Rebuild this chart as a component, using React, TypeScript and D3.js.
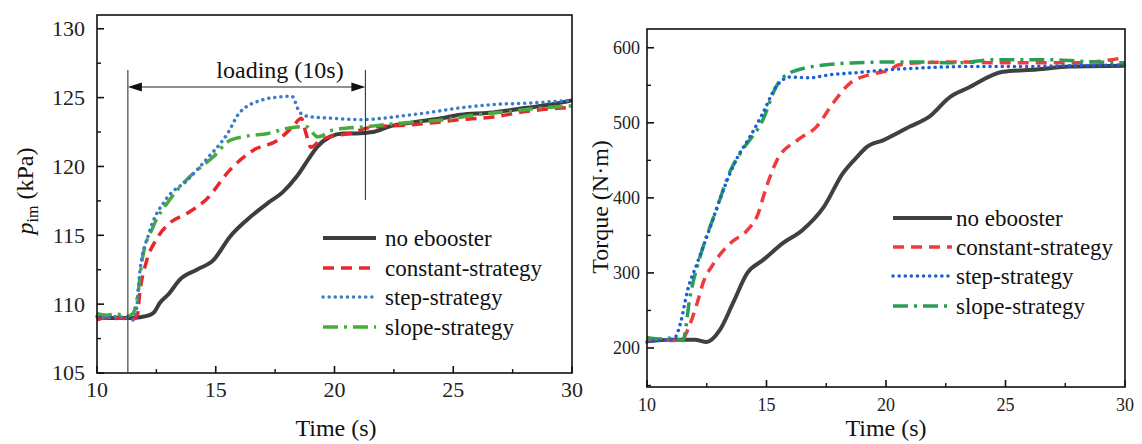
import React from "react";
import * as d3 from "d3";

// ---------- data: left panel (intake manifold pressure, kPa) ----------
const pNoT = [10, 10.5, 11, 11.5, 11.8, 12.2, 12.4, 12.65, 13.0, 13.5, 14.2, 14.9, 15.6, 16.3, 17.2, 17.8, 18.4, 18.97, 19.26, 19.8, 20.36, 20.9, 21.6, 22.3, 23.3, 24.5, 25.3, 26.5, 28.1, 29.3, 30];
const pNoV = [109.0, 109.0, 109.0, 109.0, 109.05, 109.2, 109.4, 110.1, 110.7, 111.8, 112.5, 113.2, 114.9, 116.1, 117.35, 118.1, 119.25, 120.7, 121.4, 122.15, 122.4, 122.4, 122.5, 122.9, 123.2, 123.5, 123.75, 123.9, 124.26, 124.55, 124.8];

const pConT = [10, 10.3, 10.6, 10.9, 11.2, 11.5, 11.7, 11.8, 12.1, 12.5, 13.07, 13.8, 14.6, 15.6, 16.6, 17.6, 18.25, 18.6, 18.8, 19.0, 19.4, 19.9, 20.65, 21.4, 21.8, 23.05, 24.3, 25.3, 26.7, 28.1, 30];
const pConV = [108.85, 109.0, 108.9, 109.0, 108.95, 108.9, 109.2, 110.8, 113.2, 114.7, 115.9, 116.6, 117.6, 119.75, 121.2, 121.9, 122.9, 123.5, 122.4, 121.4, 121.9, 122.2, 122.4, 122.8, 122.9, 123.0, 123.2, 123.4, 123.6, 124.0, 124.3];

const pStepT = [10, 10.4, 10.8, 11.2, 11.5, 11.65, 11.8, 12.2, 12.9, 13.8, 14.6, 15.5, 16.0, 16.9, 17.7, 18.2, 18.55, 19.0, 19.95, 21.07, 23.2, 23.9, 25.3, 26.7, 28.1, 30];
const pStepV = [109.1, 109.0, 109.1, 109.0, 108.85, 109.5, 112.3, 115.2, 117.6, 119.0, 120.5, 122.4, 123.9, 124.8, 125.05, 125.1, 123.9, 123.6, 123.5, 123.4, 123.75, 123.9, 124.26, 124.5, 124.6, 124.8];

const pSlopeT = [10, 10.4, 10.8, 11.2, 11.5, 11.7, 11.9, 12.36, 13.07, 13.9, 14.9, 15.6, 16.3, 17.2, 18.1, 18.8, 19.3, 19.95, 21.4, 22.5, 24.6, 26.0, 27.4, 28.8, 30];
const pSlopeV = [109.3, 109.2, 109.3, 109.1, 109.3, 110.5, 113.2, 115.6, 117.6, 119.25, 120.7, 121.9, 122.2, 122.4, 122.8, 122.9, 122.15, 122.65, 122.9, 123.1, 123.4, 123.75, 124.0, 124.26, 124.4];

// ---------- data: right panel (torque, N·m) ----------
const tNoT = [10, 11, 12, 12.5, 13.05, 13.6, 14.2, 14.85, 15.7, 16.5, 17.4, 18.2, 18.8, 19.2, 19.9, 21.0, 21.8, 22.7, 23.4, 24.9, 26.3, 27.7, 30];
const tNoV = [209, 211, 211, 208, 224, 260, 300, 317, 340, 357, 388, 433, 455, 468, 477, 495, 508, 535, 546, 568, 571, 575, 576];

const tConT = [10, 10.5, 11, 11.5, 11.7, 12.1, 12.35, 12.8, 13.5, 14.2, 14.6, 15.0, 15.45, 16.3, 17.1, 17.8, 18.5, 19.3, 20.2, 20.5, 21.4, 22.8, 24.9, 26.3, 27.7, 29.2, 30];
const tConV = [210, 212, 210, 212, 224, 260, 287, 313, 340, 357, 375, 415, 451, 477, 495, 527, 553, 564, 571, 577, 580, 581, 580, 580, 580, 583, 587];

const tStepT = [10, 10.5, 11, 11.2, 11.4, 11.7, 12.1, 12.6, 13.2, 13.8, 14.3, 14.85, 15.4, 16.0, 16.8, 17.65, 18.8, 20.2, 21.4, 23.4, 25.5, 27.5, 30];
const tStepV = [208, 210, 211, 215, 233, 277, 313, 357, 411, 455, 481, 513, 548, 561, 560, 564, 567, 571, 573, 575, 575, 576, 577];

const tSlopeT = [10, 10.5, 11, 11.5, 11.8, 12.35, 12.9, 13.5, 14.0, 14.85, 15.4, 16.0, 17.4, 18.8, 20.2, 21.4, 23.0, 24.5, 25.7, 27.0, 28.7, 30];
const tSlopeV = [214, 212, 213, 210, 268, 335, 384, 437, 464, 504, 548, 567, 577, 580, 581, 581, 580, 584, 584, 584, 581, 580];

const seriesNames = ["no ebooster", "constant-strategy", "step-strategy", "slope-strategy"];
const xMajor = [10, 15, 20, 25, 30];
const xMinor = [12.5, 17.5, 22.5, 27.5];
const pMajor = [105, 110, 115, 120, 125, 130];
const pMinor = [107.5, 112.5, 117.5, 122.5, 127.5];
const tMajor = [200, 300, 400, 500, 600];
const tMinor = [150, 250, 350, 450, 550];
const loadingStart = 11.3;
const loadingEnd = 21.3;

const FONT = '"Liberation Serif", "Times New Roman", Times, "DejaVu Serif", serif';

type Style = { color: string; width: number; dash?: string; cap?: "round" | "butt" };

const leftStyles: Style[] = [
  { color: "#3d3d3d", width: 4 },
  { color: "#e8262b", width: 3.5, dash: "11 7" },
  { color: "#3a7cc8", width: 3.5, dash: "0.1 6", cap: "round" },
  { color: "#4aaa3c", width: 3.5, dash: "15 6 3 6" },
];
const rightStyles: Style[] = [
  { color: "#404040", width: 4 },
  { color: "#ef3b3b", width: 3.5, dash: "11 7" },
  { color: "#1c5ed8", width: 3.5, dash: "0.1 6", cap: "round" },
  { color: "#2a9e55", width: 3.5, dash: "15 6 3 6" },
];

function zip(ts: number[], vs: number[]): [number, number][] {
  return ts.map((t, i) => [t, vs[i]]);
}

const txt = (size: number): React.CSSProperties => ({ fontFamily: FONT, fontSize: size });

export default function App() {
  const lx = d3.scaleLinear().domain([10, 30]).range([97, 572]);
  const ly = d3.scaleLinear().domain([105, 131]).range([373, 15]);
  const rx = d3.scaleLinear().domain([10, 30]).range([647, 1125]);
  const ry = d3.scaleLinear().domain([148, 625]).range([387, 29]);

  const lLine = d3.line<[number, number]>().x((d) => lx(d[0])).y((d) => ly(d[1])).curve(d3.curveMonotoneX);
  const rLine = d3.line<[number, number]>().x((d) => rx(d[0])).y((d) => ry(d[1])).curve(d3.curveMonotoneX);

  const leftData = [zip(pNoT, pNoV), zip(pConT, pConV), zip(pStepT, pStepV), zip(pSlopeT, pSlopeV)];
  const rightData = [zip(tNoT, tNoV), zip(tConT, tConV), zip(tStepT, tStepV), zip(tSlopeT, tSlopeV)];

  const drawOrder = [0, 1, 3, 2];

  const axis = (
    x: d3.ScaleLinear<number, number>,
    y: d3.ScaleLinear<number, number>,
    yMaj: number[],
    yMin: number[],
    tickFont: number,
    xLabelY: number,
    yLabelX: number
  ) => {
    const [x0, x1] = x.range();
    const [y0, y1] = y.range();
    return (
      <g>
        <rect x={x0} y={y1} width={x1 - x0} height={y0 - y1} fill="none" stroke="#111" strokeWidth={1.6} />
        {xMajor.map((v) => (
          <line key={"xM" + v} x1={x(v)} x2={x(v)} y1={y0} y2={y0 - 7} stroke="#111" strokeWidth={1.6} />
        ))}
        {xMinor.map((v) => (
          <line key={"xm" + v} x1={x(v)} x2={x(v)} y1={y0} y2={y0 - 4} stroke="#111" strokeWidth={1.4} />
        ))}
        {yMaj.map((v) => (
          <line key={"yM" + v} x1={x0} x2={x0 + 7} y1={y(v)} y2={y(v)} stroke="#111" strokeWidth={1.6} />
        ))}
        {yMin.map((v) => (
          <line key={"ym" + v} x1={x0} x2={x0 + 4} y1={y(v)} y2={y(v)} stroke="#111" strokeWidth={1.4} />
        ))}
        {xMajor.map((v) => (
          <text key={"xl" + v} x={x(v)} y={xLabelY} textAnchor="middle" style={txt(tickFont)} fill="#222">
            {v}
          </text>
        ))}
        {yMaj.map((v) => (
          <text key={"yl" + v} x={yLabelX} y={y(v)} dy="0.34em" textAnchor="end" style={txt(tickFont)} fill="#222">
            {v}
          </text>
        ))}
      </g>
    );
  };

  const legend = (styles: Style[], lx0: number, lx1: number, tx: number, ys: number[], fs: number) => (
    <g>
      {seriesNames.map((name, i) => (
        <g key={name}>
          <line
            x1={lx0}
            x2={lx1}
            y1={ys[i]}
            y2={ys[i]}
            stroke={styles[i].color}
            strokeWidth={styles[i].width}
            strokeDasharray={styles[i].dash}
            strokeLinecap={styles[i].cap ?? "butt"}
          />
          <text x={tx} y={ys[i]} dy="0.33em" style={txt(fs)} fill="#111">
            {name}
          </text>
        </g>
      ))}
    </g>
  );

  const xs = lx(loadingStart);
  const xe = lx(loadingEnd);
  const arrowY = 87;

  return (
    <svg width={1142} height={444} style={{ position: "absolute", left: 0, top: 0, background: "#fff" }}>
      <rect x={0} y={0} width={1142} height={444} fill="#fff" />
      {drawOrder.map((i) => (
        <path
          key={"L" + i}
          d={lLine(leftData[i]) ?? ""}
          fill="none"
          stroke={leftStyles[i].color}
          strokeWidth={leftStyles[i].width}
          strokeDasharray={leftStyles[i].dash}
          strokeLinecap={leftStyles[i].cap ?? "butt"}
          strokeLinejoin="round"
        />
      ))}
      {axis(lx, ly, pMajor, pMinor, 22, 397, 85)}
      <line x1={xs} x2={xs} y1={70} y2={373} stroke="#222" strokeWidth={1} />
      <line x1={xe} x2={xe} y1={70} y2={200} stroke="#222" strokeWidth={1} />
      <line x1={xs + 10} x2={xe - 10} y1={arrowY} y2={arrowY} stroke="#222" strokeWidth={1.2} />
      <path d={`M${xs},${arrowY} L${xs + 14},${arrowY - 4.5} L${xs + 14},${arrowY + 4.5} Z`} fill="#111" />
      <path d={`M${xe},${arrowY} L${xe - 14},${arrowY - 4.5} L${xe - 14},${arrowY + 4.5} Z`} fill="#111" />
      <text x={280} y={78} textAnchor="middle" style={txt(24)} fill="#111">
        loading (10s)
      </text>
      {legend(leftStyles, 323, 376, 385, [238, 268, 297, 327], 23)}
      <text x={336} y={436} textAnchor="middle" style={txt(24)} fill="#111">
        Time (s)
      </text>
      <text transform="translate(33,191) rotate(-90)" textAnchor="middle" style={txt(24)} fill="#111">
        <tspan fontStyle="italic">p</tspan>
        <tspan fontSize={16} dy={5}>im</tspan>
        <tspan dy={-5}> (kPa)</tspan>
      </text>

      {drawOrder.map((i) => (
        <path
          key={"R" + i}
          d={rLine(rightData[i]) ?? ""}
          fill="none"
          stroke={rightStyles[i].color}
          strokeWidth={rightStyles[i].width}
          strokeDasharray={rightStyles[i].dash}
          strokeLinecap={rightStyles[i].cap ?? "butt"}
          strokeLinejoin="round"
        />
      ))}
      {axis(rx, ry, tMajor, tMinor, 18, 411, 640)}
      {legend(rightStyles, 893, 952, 956, [218, 247, 276, 306], 23)}
      <text x={886} y={436} textAnchor="middle" style={txt(24)} fill="#111">
        Time (s)
      </text>
      <text transform="translate(608,207) rotate(-90)" textAnchor="middle" style={txt(24)} fill="#111">
        Torque (N·m)
      </text>
    </svg>
  );
}
